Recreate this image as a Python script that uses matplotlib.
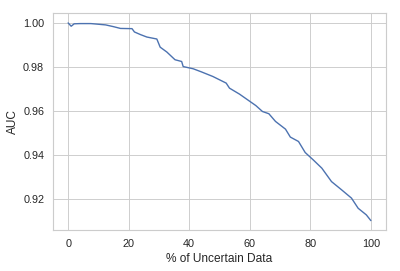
import matplotlib
matplotlib.use("Agg")
import matplotlib.pyplot as plt
import seaborn as sns

sns.set_theme(style="whitegrid")
plt.rcParams['font.family'] = ['Liberation Sans', 'DejaVu Sans']
plt.rcParams['axes.labelsize'] = 12.8
plt.rcParams['xtick.labelsize'] = 11.7
plt.rcParams['ytick.labelsize'] = 11.7

pct_uncertain = [0, 1, 2, 4, 7.5, 10, 12.4, 15, 17.3, 21.1, 21.9, 23.9, 26, 29.3, 30.4,
                 32.6, 35.3, 37.5, 38, 41.3, 44, 47.8, 50, 52.2, 53.3, 56.6, 59.3,
                 62, 64.2, 66.3, 68.5, 71.8, 73.4, 76.1, 78.3, 81, 83.8, 87, 90.3,
                 93.6, 95.8, 98.5, 100]
auc = [1.000, 0.9985, 0.9996, 0.9997, 0.9997, 0.9994, 0.9991, 0.9983, 0.9975, 0.9974,
       0.9959, 0.9947, 0.9936, 0.9927, 0.9890, 0.9868, 0.9833, 0.9825, 0.9802, 0.9792,
       0.9778, 0.9757, 0.9742, 0.9727, 0.9704, 0.9677, 0.9651, 0.9625, 0.9598, 0.9588,
       0.9553, 0.9518, 0.9482, 0.9462, 0.9412, 0.9378, 0.9341, 0.9280, 0.9243, 0.9205,
       0.9159, 0.9129, 0.9103]

fig = plt.figure(figsize=(6, 4.065), dpi=400 / 6)
ax = fig.add_axes([0.1325, 0.151, 0.8325, 0.801])
ax.plot(pct_uncertain, auc, color="#4c72b0", linewidth=1.5)
ax.set_xlabel("% of Uncertain Data")
ax.set_ylabel("AUC")
ax.set_ylim(0.906, 1.0045)
ax.set_xticks([0, 20, 40, 60, 80, 100])
ax.set_yticks([0.92, 0.94, 0.96, 0.98, 1.00])
ax.set_yticklabels(["0.92", "0.94", "0.96", "0.98", "1.00"])
fig.savefig("out.png", dpi=400 / 6)
